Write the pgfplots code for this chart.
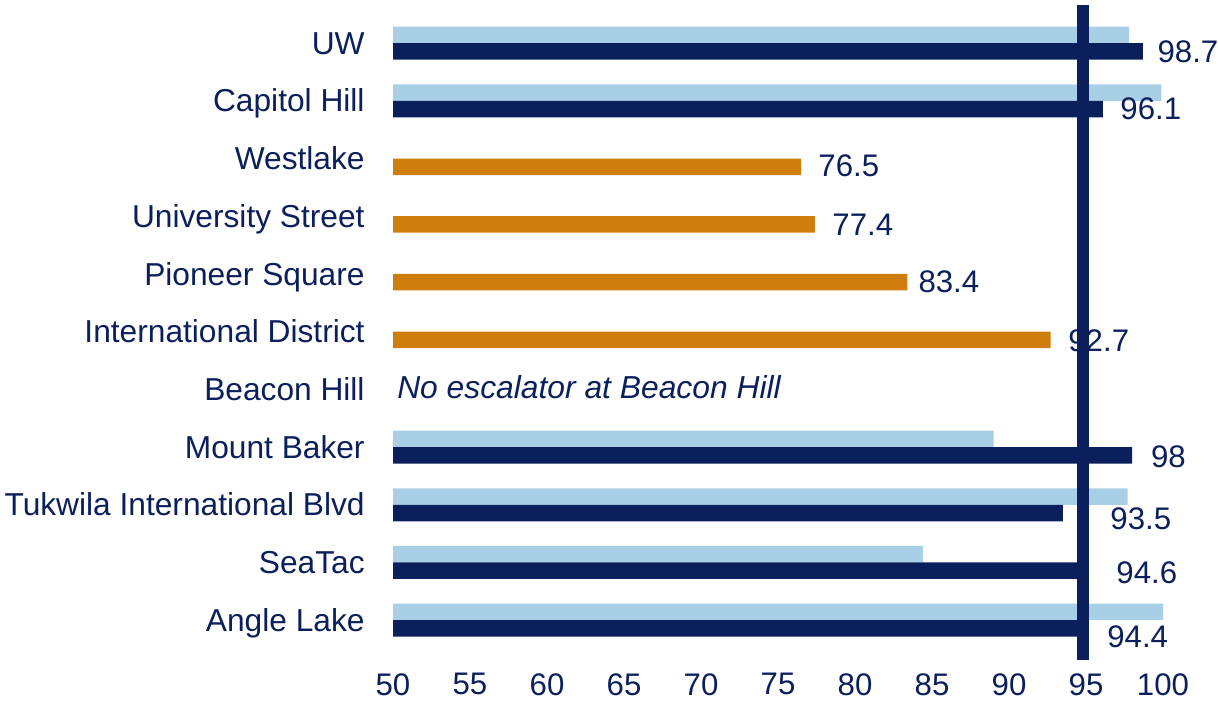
\documentclass[border=0pt]{standalone}
\usepackage{pgfplots}
\pgfplotsset{compat=1.18}
\usepackage{pgfplotstable}
\usepackage{fontspec}
\setmainfont{Liberation Sans}
\definecolor{navy}{HTML}{0A1F5C}
\definecolor{lblue}{HTML}{A8CFE5}
\definecolor{orng}{HTML}{CF7D0C}

% y: 10 = UW (top) ... 0 = Angle Lake (bottom)
\pgfplotstableread{
y v
10 97.8
9 99.9
3 89.0
2 97.7
1 84.4
0 100
}\light
\pgfplotstableread{
y v
10 98.7
9 96.1
3 98
2 93.5
1 94.6
0 94.4
}\dark
\pgfplotstableread{
y v
8 76.5
7 77.4
6 83.4
5 92.7
}\orange
% label position (lx) and vertical offset (dy)
\pgfplotstableread{
y lx dy lab
10 99.62 -0.156 98.7
9 97.21 -0.14 96.1
8 77.60 -0.13 76.5
7 78.51 -0.14 77.4
6 84.10 -0.14 83.4
5 93.83 -0.165 92.7
3 99.20 -0.16 98
2 96.56 -0.25 93.5
1 96.95 -0.17 94.6
0 96.36 -0.28 94.4
}\labels

\begin{document}
\begin{tikzpicture}[font=\fontsize{15.5}{18}\selectfont]
\useasboundingbox (0,0) rectangle (609pt,351.5pt);
\begin{axis}[
  at={(196.5pt,21.5pt)}, anchor=south west,
  width=385pt, height=327.5pt, scale only axis,
  xmin=0, xmax=50, ymin=-0.69, ymax=10.66,
  axis line style={draw=none}, tick style={draw=none}, major tick length=0pt,
  clip=false,
  xtick={0,5,10,15,20,25,30,35,40,45,50},
  xticklabels={50,55,60,65,70,75,80,85,90,95,100},
  ytick={0,1,2,3,4,5,6,7,8,9,10},
  yticklabels={Angle Lake,SeaTac,Tukwila International Blvd,Mount Baker,Beacon Hill,International District,Pioneer Square,University Street,Westlake,Capitol Hill,UW},
  xticklabel style={anchor=north, inner sep=0pt, yshift=-6.5pt, text=navy, font=\fontsize{15.6}{18}\selectfont},
  yticklabel style={anchor=base east, inner sep=0pt, xshift=-14pt, yshift=-5.6pt, text=navy, font=\fontsize{15.85}{18}\selectfont},
  /pgf/number format/assume math mode=true,
]
\addplot[xbar, bar width=8.25pt, bar shift=4.125pt, draw=none, fill=lblue]
  table[x expr=\thisrow{v}-50, y=y]{\light};
\addplot[xbar, bar width=8.25pt, bar shift=-4.125pt, draw=none, fill=navy]
  table[x expr=\thisrow{v}-50, y=y]{\dark};
\addplot[xbar, bar width=8.25pt, bar shift=-4.125pt, draw=none, fill=orng]
  table[x expr=\thisrow{v}-50, y=y]{\orange};
\addplot[draw=none, mark=none, nodes near coords, point meta=explicit symbolic,
  nodes near coords style={anchor=west, inner sep=0pt, text=navy, font=\fontsize{15.6}{18}\selectfont}]
  table[x expr=\thisrow{lx}-50, y expr=\thisrow{y}+\thisrow{dy}, meta=lab]{\labels};
\node[anchor=west, inner sep=0pt, text=navy, font=\fontsize{15.9}{18}\selectfont\itshape] at (axis cs:0.25,4.03) {No escalator at Beacon Hill};
\addplot[navy, line width=6pt] coordinates {(44.8,-0.69) (44.8,10.66)};
\end{axis}
\end{tikzpicture}
\end{document}
